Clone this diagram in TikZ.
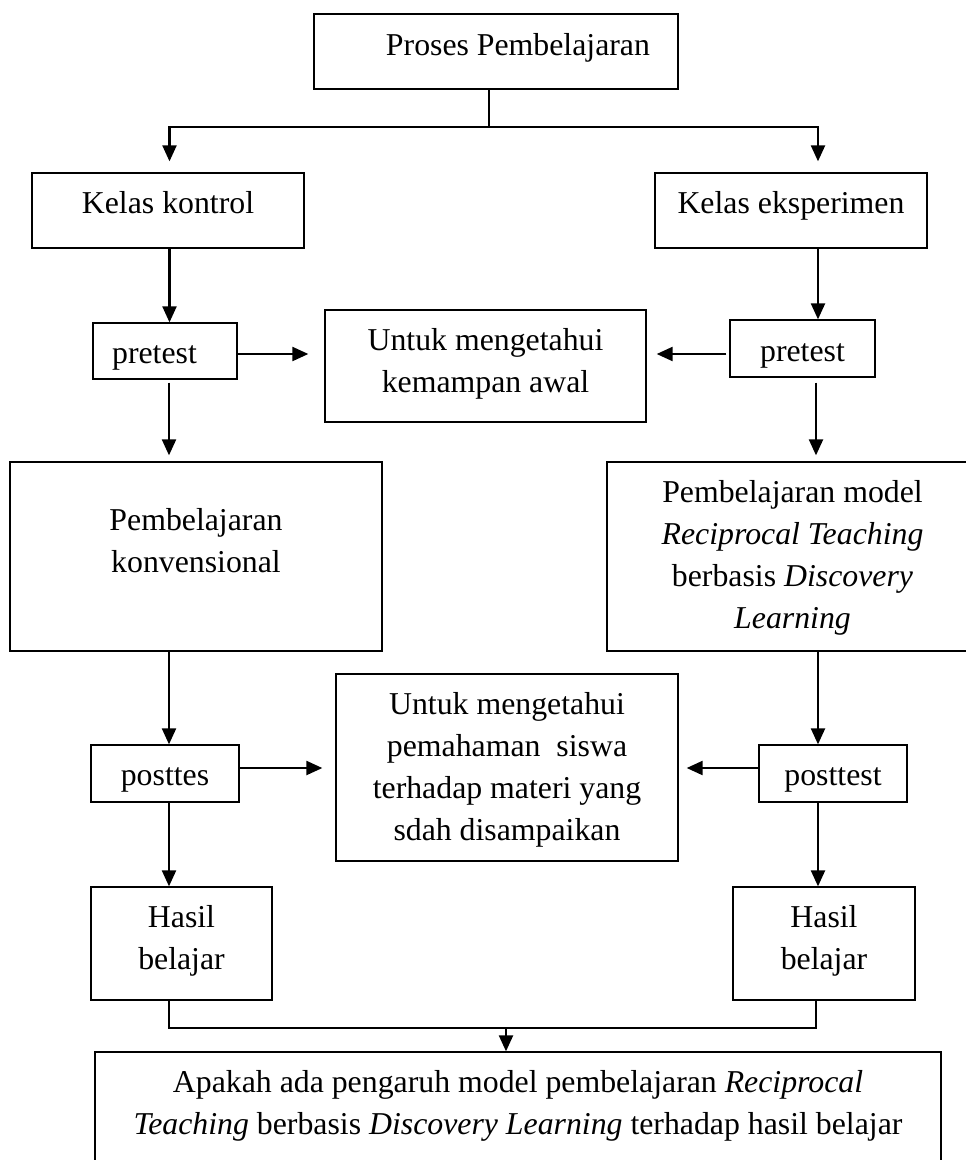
\documentclass[tikz,border=0pt]{standalone}
\usepackage{fontspec}
\setmainfont{Liberation Serif}
\usetikzlibrary{arrows.meta,calc}
\newcommand\mlines[1]{\begin{tabular}[t]{@{}c@{}}#1\end{tabular}}
\tikzset{
  box/.style={draw=black, line width=1.3pt, inner sep=0pt, align=center,
    font=\fontsize{31.8pt}{42pt}\selectfont, text height=0pt, text depth=0pt},
  conn/.style={line width=1.4pt},
  conn2/.style={line width=2pt},
  arr/.style={line width=2.2pt, -{Triangle[length=16pt,width=14pt]}}
}
\begin{document}
\begin{tikzpicture}[x=1pt,y=-1pt]
\useasboundingbox (0,0) rectangle (966,1160);
% boxes
\node[box, minimum width=364pt, minimum height=75pt, text height=7pt] (top) at (496,51.5) {\hspace*{44pt}\mlines{Proses Pembelajaran}};
\node[box, minimum width=272pt, minimum height=75pt, text height=6pt] (kk) at (168,210.5) {\mlines{Kelas kontrol}};
\node[box, minimum width=272pt, minimum height=75pt, text height=6pt] (ke) at (791,210.5) {\mlines{Kelas eksperimen}};
\node[box, minimum width=144pt, minimum height=56pt, text height=24pt] (preL) at (165,351) {\mlines{pretest}\hspace*{21pt}};
\node[box, minimum width=145pt, minimum height=57pt, text height=25pt] (preR) at (802.5,348.5) {\mlines{pretest}};
\node[box, minimum width=321pt, minimum height=112pt, text depth=31pt] (awal) at (485.5,366) {\mlines{Untuk mengetahui\\kemampan awal}};
\node[box, minimum width=372pt, minimum height=189pt, text depth=53pt] (konv) at (196,556.5) {\mlines{Pembelajaran\\konvensional}};
\node[box, minimum width=361pt, minimum height=189pt, text depth=108pt] (model) at (787.5,556.5) {\hspace*{10pt}\mlines{Pembelajaran model\\\textit{Reciprocal Teaching}\\berbasis \textit{Discovery}\\\textit{Learning}}};
\node[box, minimum width=148pt, minimum height=57pt, text height=23pt] (postL) at (165,773.5) {\mlines{posttes}};
\node[box, minimum width=148pt, minimum height=57pt, text height=23pt] (postR) at (833,773.5) {\mlines{posttest}};
\node[box, minimum width=342pt, minimum height=187pt, text depth=107pt] (mid) at (507,767.5) {\mlines{Untuk mengetahui\\pemahaman\ \ siswa\\terhadap materi yang\\sdah disampaikan}};
\node[box, minimum width=181pt, minimum height=113pt, text depth=33pt] (hasL) at (181.5,943.5) {\mlines{Hasil\\belajar}};
\node[box, minimum width=182pt, minimum height=113pt, text depth=33pt] (hasR) at (824,943.5) {\mlines{Hasil\\belajar}};
\node[box, minimum width=846pt, minimum height=128pt, text depth=48pt] (final) at (518,1116) {\mlines{Apakah ada pengaruh model pembelajaran \textit{Reciprocal}\\\textit{Teaching} berbasis \textit{Discovery Learning} terhadap hasil belajar}};
% connectors
\coordinate (j1) at (489,127);
\draw[conn] (top.south -| j1) -- (j1);
\draw[arr, shorten >=11pt] (j1) -| ([xshift=1.5pt]kk.north);
\draw[arr, shorten >=11pt] (j1) -| ([xshift=27pt]ke.north);
\draw[arr] ([xshift=1.5pt]kk.south) -- ([xshift=1.5pt]kk.south |- preL.north);
\draw[arr] ([xshift=27pt]ke.south) -- ([xshift=27pt]ke.south |- preR.north);
\draw[arr, shorten >=16pt] ([yshift=-3pt]preL.east) -- ([yshift=-3pt]preL.east -| awal.west);
\draw[arr, shorten >=10pt, shorten <=3pt] ([yshift=-5.5pt]preR.west) -- ([yshift=-5.5pt]preR.west -| awal.east);
\draw[arr, shorten <=3pt, shorten >=6pt] (konv.north |- preL.south) ++(-27,0) coordinate (a1) (a1) -- (a1 |- konv.north);
\draw[arr, shorten <=5pt, shorten >=6pt] (model.north |- preR.south) ++(28.5,0) coordinate (a2) (a2) -- (a2 |- model.north);
\draw[arr] ([xshift=-27pt]konv.south) -- ([xshift=-27pt]konv.south |- postL.north);
\draw[arr] ([xshift=30.5pt]model.south) -- ([xshift=30.5pt]model.south |- postR.north);
\draw[arr, shorten >=13pt] ([yshift=5.5pt]postL.east) -- ([yshift=5.5pt]postL.east -| mid.west);
\draw[arr, shorten >=8pt] ([yshift=5.5pt]postR.west) -- ([yshift=5.5pt]postR.west -| mid.east);
\draw[arr] ([xshift=4pt]postL.south) -- ([xshift=4pt]postL.south |- hasL.north);
\draw[arr] ([xshift=-15pt]postR.south) -- ([xshift=-15pt]postR.south |- hasR.north);
\coordinate (j2) at (506,1028);
\draw[conn2] ([xshift=-12.5pt]hasL.south) |- (j2) -| ([xshift=-8pt]hasR.south);
\draw[arr] (j2) -- (j2 |- final.north);
\end{tikzpicture}
\end{document}
